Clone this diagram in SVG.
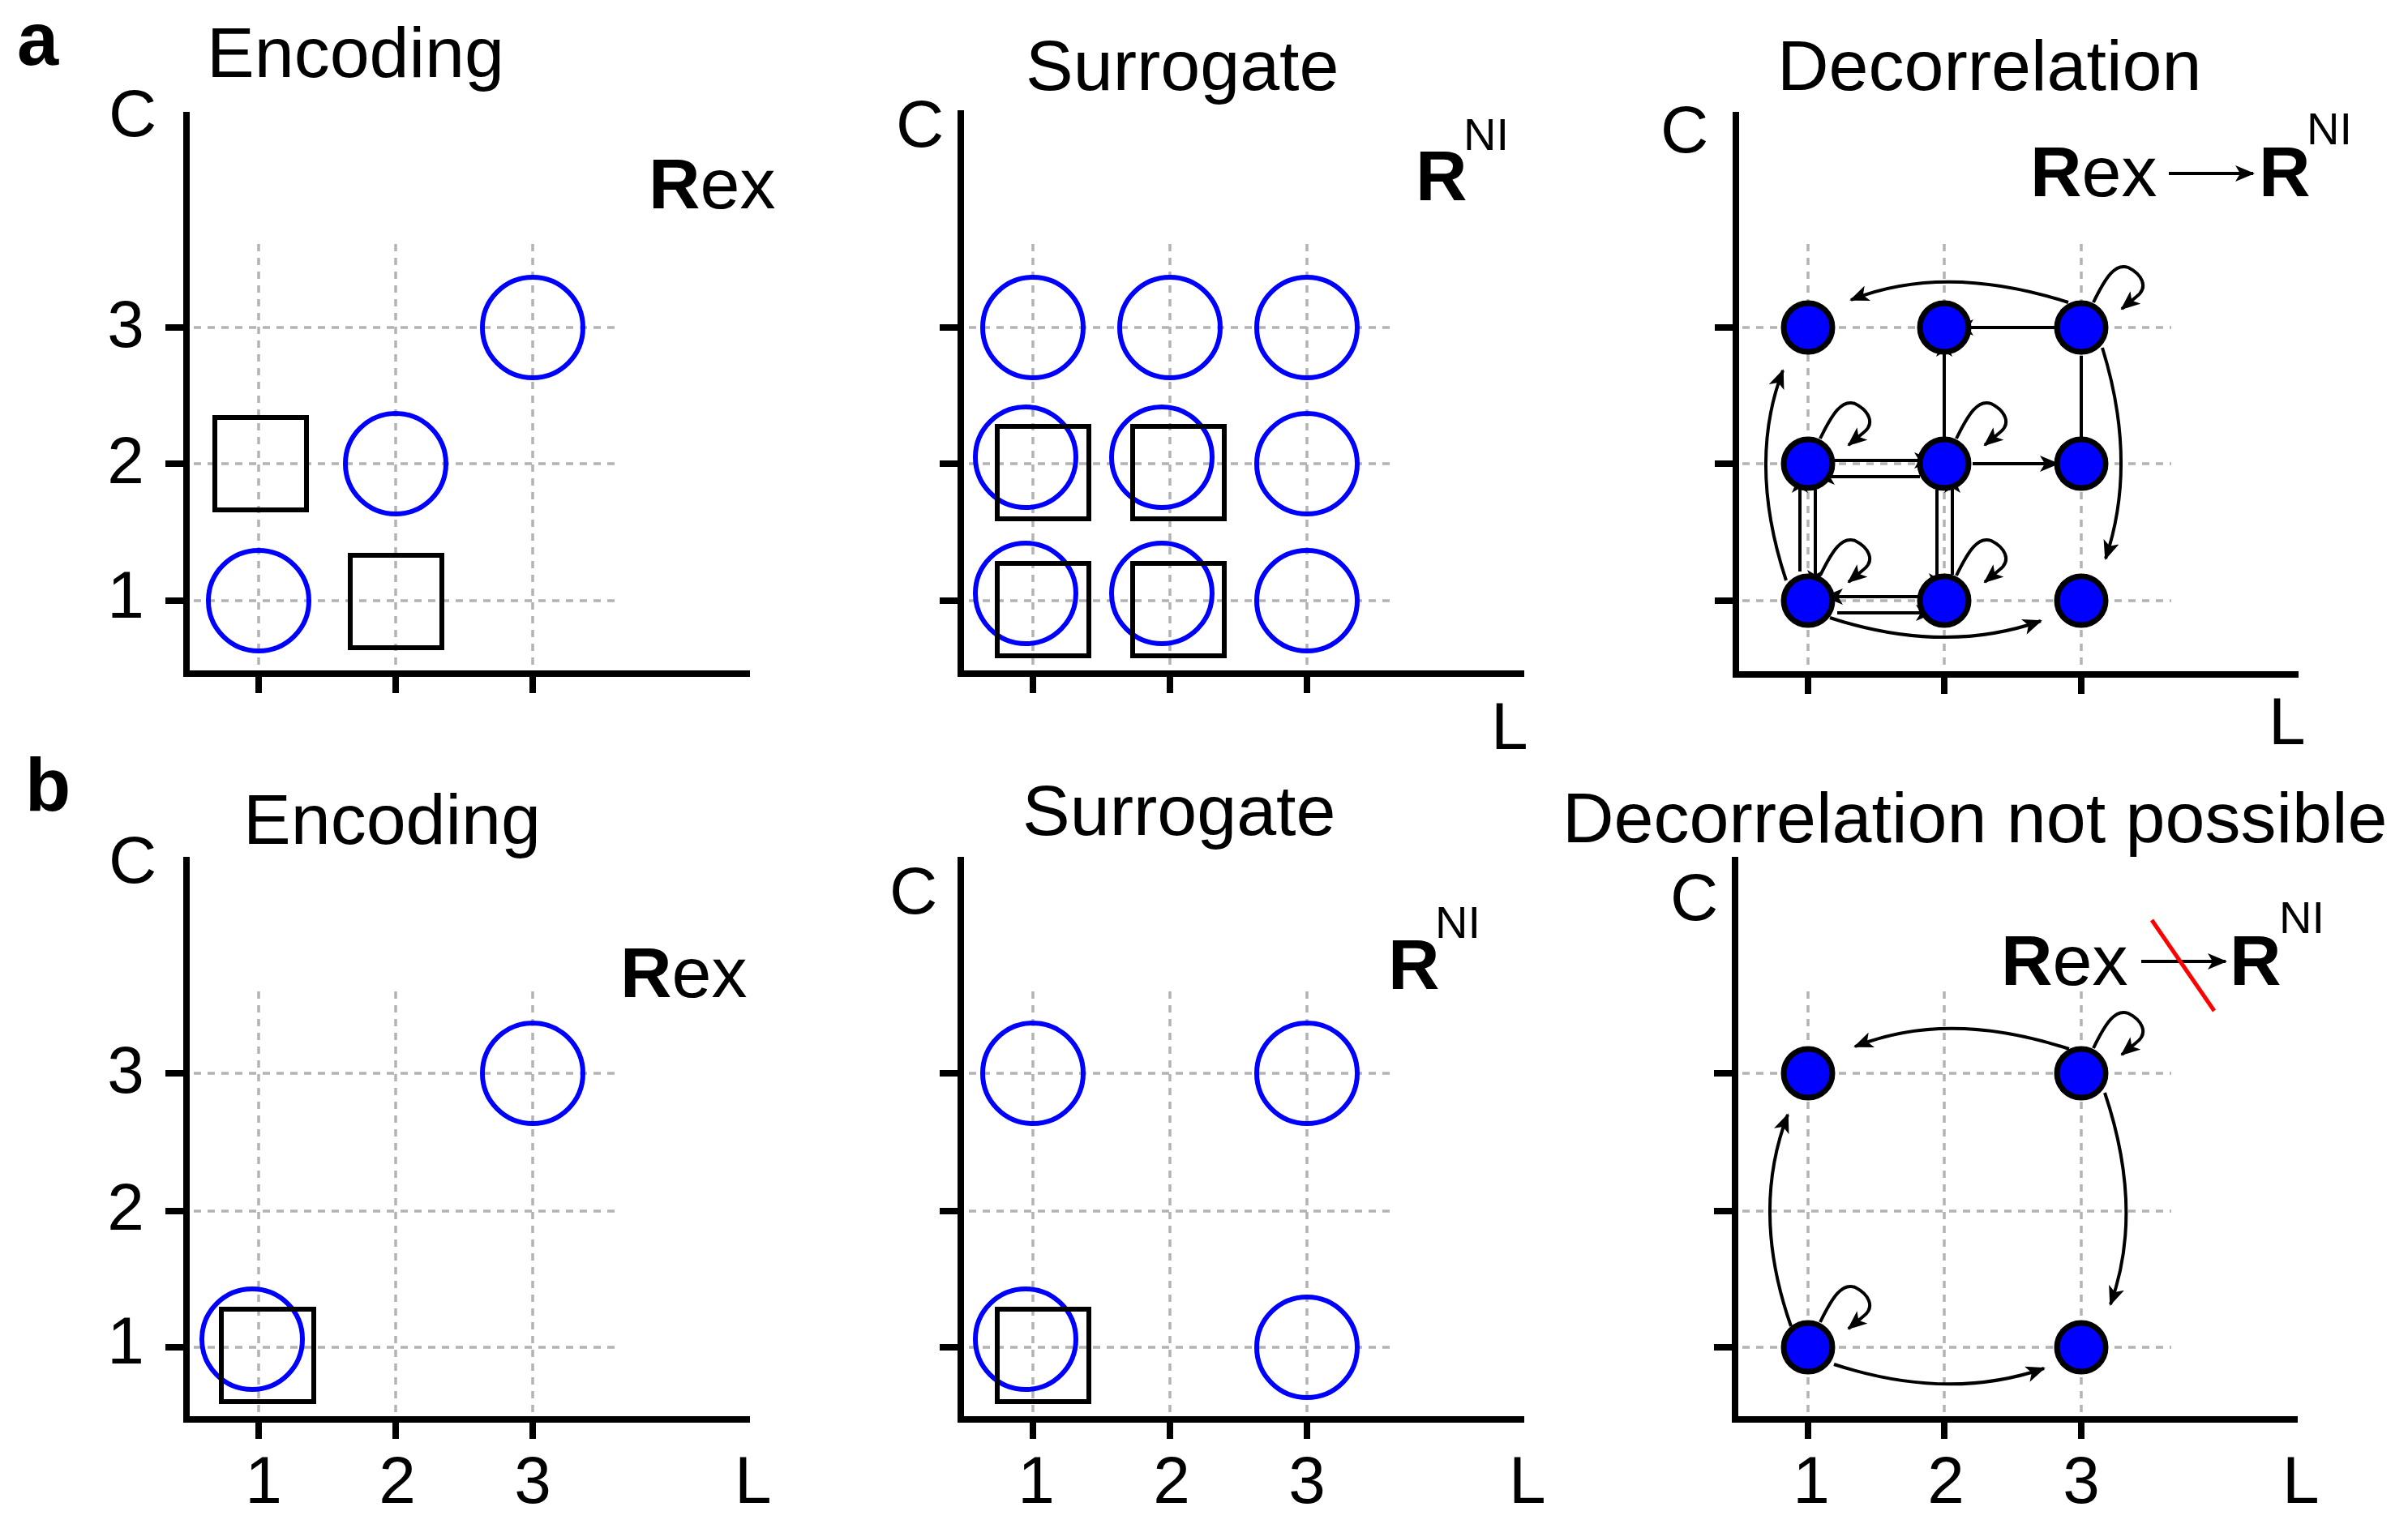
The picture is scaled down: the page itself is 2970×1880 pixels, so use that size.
<svg xmlns="http://www.w3.org/2000/svg" width="2970" height="1880" viewBox="0 0 2970 1880">
<style>
text{font-family:"Liberation Sans",Arial,sans-serif;fill:#000}
.t{font-size:88px}
.lab{font-size:82px}
.tk{font-size:82px;text-anchor:middle}
.b{font-weight:bold}
.sup{font-size:56px}
.ax{stroke:#000;stroke-width:8;fill:none;stroke-linecap:butt}
.g{stroke:#b3b3b3;stroke-width:3.5;stroke-dasharray:9 8;fill:none}
.oc{fill:none;stroke:#0000ff;stroke-width:6}
.sq{fill:none;stroke:#000;stroke-width:6}
.nd{fill:#0000ff;stroke:#000;stroke-width:7}
.e{fill:none;stroke:#000;stroke-width:4;marker-end:url(#ah)}
</style>
<defs>
<marker id="ah" markerUnits="userSpaceOnUse" markerWidth="24" markerHeight="20" viewBox="0 0 24 20" refX="22" refY="10" orient="auto">
<path d="M0,0 L24,10 L0,20 L6,10 z" fill="#000"/>
</marker>
<path id="loop" d="M15,-31 C30,-62 42,-80 58,-74 C74,-66 84,-50 68,-38 L50,-23" class="e"/>
</defs>

<!-- panel labels -->
<text x="21" y="80" class="b" font-size="92">a</text>
<text x="31" y="1000" class="b" font-size="92">b</text>

<!-- ===== A1 ===== -->
<g id="a1">
<g class="g">
<path d="M319,301V831M488,301V831M657,301V831M239,404H765M239,572H765M239,741H765"/>
</g>
<path class="ax" d="M230,138V831H925M204,404H230M204,572H230M204,741H230M319,831V855M488,831V855M657,831V855"/>
<text x="255" y="95" class="t">Encoding</text>
<text x="134" y="168" class="lab">C</text>
<text x="155" y="428" class="tk">3</text><text x="155" y="596" class="tk">2</text><text x="155" y="762" class="tk">1</text>
<text x="800" y="257" class="t"><tspan class="b">R</tspan>ex</text>
<circle class="oc" cx="657" cy="404" r="62"/>
<circle class="oc" cx="488" cy="572" r="62"/>
<circle class="oc" cx="319" cy="741" r="62"/>
<rect class="sq" x="265" y="515" width="113" height="114"/>
<rect class="sq" x="432" y="685" width="113" height="114"/>
</g>

<!-- ===== A2 ===== -->
<g id="a2">
<path class="g" d="M1274,301V831M1443,301V831M1612,301V831M1195,404H1721M1195,572H1721M1195,741H1721"/>
<path class="ax" d="M1185,136V831H1880M1159,404H1185M1159,572H1185M1159,741H1185M1274,831V855M1443,831V855M1612,831V855"/>
<text x="1265" y="111" class="t">Surrogate</text>
<text x="1105" y="181" class="lab">C</text>
<text x="1746" y="247" class="t b">R</text><text x="1805" y="185" class="sup">NI</text>
<text x="1839" y="924" class="lab">L</text>
<circle class="oc" cx="1274" cy="404" r="62"/>
<circle class="oc" cx="1443" cy="404" r="62"/>
<circle class="oc" cx="1612" cy="404" r="62"/>
<circle class="oc" cx="1265" cy="564" r="62"/>
<circle class="oc" cx="1433" cy="564" r="62"/>
<circle class="oc" cx="1612" cy="572" r="62"/>
<circle class="oc" cx="1265" cy="732" r="62"/>
<circle class="oc" cx="1433" cy="732" r="62"/>
<circle class="oc" cx="1612" cy="741" r="62"/>
<rect class="sq" x="1230" y="526" width="113" height="114"/>
<rect class="sq" x="1397" y="526" width="113" height="114"/>
<rect class="sq" x="1230" y="695" width="113" height="114"/>
<rect class="sq" x="1397" y="695" width="113" height="114"/>
</g>

<!-- ===== A3 ===== -->
<g id="a3">
<path class="g" d="M2230,301V831M2398,301V831M2567,301V831M2149,404H2678M2149,572H2678M2149,741H2678"/>
<path class="ax" d="M2141,138V832H2835M2115,404H2141M2115,572H2141M2115,741H2141M2230,832V856M2398,832V856M2567,832V856"/>
<text x="2192" y="111" class="t">Decorrelation</text>
<text x="2048" y="188" class="lab">C</text>
<text x="2504" y="242" class="t"><tspan class="b">R</tspan>ex</text>
<path class="e" d="M2675,214H2779"/>
<text x="2786" y="242" class="t b">R</text><text x="2845" y="178" class="sup">NI</text>
<text x="2798" y="918" class="lab">L</text>
</g>
<g id="a3-edges">
<path class="e" d="M2551,373 Q2398,324 2283,370"/>
<path class="e" d="M2534,404H2412"/>
<path class="e" d="M2398,539V418"/>
<path class="e" d="M2567,439V562"/>
<path class="e" d="M2433,572H2538"/>
<path class="e" d="M2262,568H2383"/>
<path class="e" d="M2368,588H2241"/>
<path class="e" d="M2220,705V586"/>
<path class="e" d="M2239,604V725"/>
<path class="e" d="M2389,604V729"/>
<path class="e" d="M2408,709V586"/>
<path class="e" d="M2366,736H2251"/>
<path class="e" d="M2266,756H2385"/>
<path class="e" d="M2257,762 Q2398,808 2517,766"/>
<path class="e" d="M2203,716 Q2155,571 2199,457"/>
<path class="e" d="M2593,429 Q2637,571 2597,689"/>
<use href="#loop" x="2567" y="404"/>
<use href="#loop" x="2230" y="572"/>
<use href="#loop" x="2398" y="572"/>
<use href="#loop" x="2230" y="741"/>
<use href="#loop" x="2398" y="741"/>
</g>
<g id="a3-nodes">
<circle class="nd" cx="2230" cy="404" r="30"/>
<circle class="nd" cx="2398" cy="404" r="30"/>
<circle class="nd" cx="2567" cy="404" r="30"/>
<circle class="nd" cx="2230" cy="572" r="30"/>
<circle class="nd" cx="2398" cy="572" r="30"/>
<circle class="nd" cx="2567" cy="572" r="30"/>
<circle class="nd" cx="2230" cy="741" r="30"/>
<circle class="nd" cx="2398" cy="741" r="30"/>
<circle class="nd" cx="2567" cy="741" r="30"/>
</g>

<!-- ===== B1 ===== -->
<g id="b1">
<path class="g" d="M319,1223V1751M488,1223V1751M657,1223V1751M239,1324H765M239,1494H765M239,1662H765"/>
<path class="ax" d="M230,1057V1751H925M204,1324H230M204,1494H230M204,1662H230M319,1751V1775M488,1751V1775M657,1751V1775"/>
<text x="300" y="1041" class="t">Encoding</text>
<text x="134" y="1089" class="lab">C</text>
<text x="155" y="1348" class="tk">3</text><text x="155" y="1517" class="tk">2</text><text x="155" y="1682" class="tk">1</text>
<text x="325" y="1854" class="tk">1</text><text x="490" y="1854" class="tk">2</text><text x="657" y="1854" class="tk">3</text>
<text x="906" y="1854" class="lab">L</text>
<text x="765" y="1230" class="t"><tspan class="b">R</tspan>ex</text>
<circle class="oc" cx="657" cy="1324" r="62"/>
<circle class="oc" cx="311" cy="1652" r="62"/>
<rect class="sq" x="273" y="1615" width="114" height="114"/>
</g>

<!-- ===== B2 ===== -->
<g id="b2">
<path class="g" d="M1274,1223V1751M1443,1223V1751M1612,1223V1751M1195,1324H1721M1195,1494H1721M1195,1662H1721"/>
<path class="ax" d="M1185,1057V1751H1880M1159,1324H1185M1159,1494H1185M1159,1662H1185M1274,1751V1775M1443,1751V1775M1612,1751V1775"/>
<text x="1261" y="1030" class="t">Surrogate</text>
<text x="1097" y="1127" class="lab">C</text>
<text x="1712" y="1220" class="t b">R</text><text x="1770" y="1157" class="sup">NI</text>
<text x="1278" y="1854" class="tk">1</text><text x="1445" y="1854" class="tk">2</text><text x="1612" y="1854" class="tk">3</text>
<text x="1861" y="1854" class="lab">L</text>
<circle class="oc" cx="1274" cy="1324" r="62"/>
<circle class="oc" cx="1612" cy="1324" r="62"/>
<circle class="oc" cx="1612" cy="1662" r="62"/>
<circle class="oc" cx="1265" cy="1652" r="62"/>
<rect class="sq" x="1230" y="1615" width="113" height="114"/>
</g>

<!-- ===== B3 ===== -->
<g id="b3">
<path class="g" d="M2230,1223V1751M2398,1223V1751M2567,1223V1751M2149,1324H2678M2149,1494H2678M2149,1662H2678"/>
<path class="ax" d="M2140,1057V1751H2834M2114,1324H2140M2114,1494H2140M2114,1662H2140M2230,1751V1775M2398,1751V1775M2567,1751V1775"/>
<text x="1927" y="1039" class="t">Decorrelation not possible</text>
<text x="2060" y="1135" class="lab">C</text>
<text x="2468" y="1215" class="t"><tspan class="b">R</tspan>ex</text>
<path class="e" d="M2641,1186H2745"/>
<path d="M2654,1135L2731,1247" stroke="#ff0000" stroke-width="5"/>
<text x="2750" y="1215" class="t b">R</text><text x="2811" y="1151" class="sup">NI</text>
<text x="2234" y="1854" class="tk">1</text><text x="2400" y="1854" class="tk">2</text><text x="2567" y="1854" class="tk">3</text>
<text x="2815" y="1854" class="lab">L</text>
</g>
<g id="b3-edges">
<path class="e" d="M2552,1294 Q2403,1245 2288,1291"/>
<path class="e" d="M2596,1348 Q2645,1494 2603,1609"/>
<path class="e" d="M2209,1636 Q2159,1494 2205,1375"/>
<path class="e" d="M2262,1683 Q2403,1729 2521,1688"/>
<use href="#loop" x="2567" y="1324"/>
<use href="#loop" x="2230" y="1662"/>
</g>
<g id="b3-nodes">
<circle class="nd" cx="2230" cy="1324" r="30"/>
<circle class="nd" cx="2567" cy="1324" r="30"/>
<circle class="nd" cx="2230" cy="1662" r="30"/>
<circle class="nd" cx="2567" cy="1662" r="30"/>
</g>
</svg>
